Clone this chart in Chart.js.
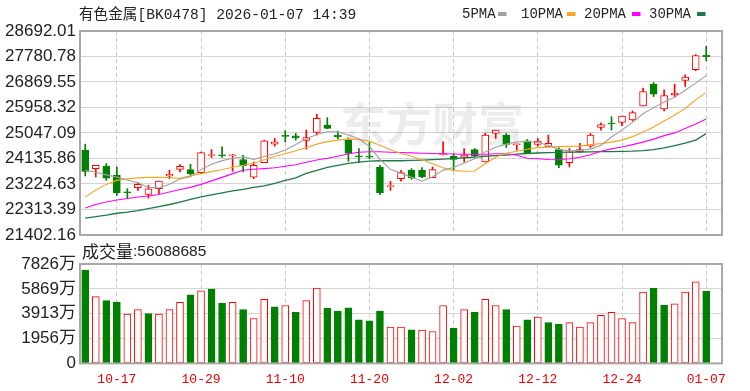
<!DOCTYPE html>
<html>
<head>
<meta charset="utf-8">
<script src="https://cdn.jsdelivr.net/npm/chart.js@4.4.1/dist/chart.umd.min.js"></script>
<style>
  html, body { margin: 0; padding: 0; background: #fff; }
  #wrap { position: relative; width: 750px; height: 391px; overflow: hidden; }
  #kline { position: absolute; left: 0; top: 0; }
  #vol { position: absolute; left: 0; top: 240px; }
</style>
</head>
<body>
<div id="wrap">
  <canvas id="kline" width="750" height="252"></canvas>
  <canvas id="vol" width="750" height="160"></canvas>
</div>
<script>
const title = "有色金属[BK0478] 2026-01-07 14:39";
const maNames = ["5PMA", "10PMA", "20PMA", "30PMA"];
const volTitle = "成交量";
const lastVolume = 56088685;

const dates = ["10-14","10-15","10-16","10-17","10-20","10-21","10-22","10-23","10-24","10-27",
  "10-28","10-29","10-30","10-31","11-03","11-04","11-05","11-06","11-07","11-10",
  "11-11","11-12","11-13","11-14","11-17","11-18","11-19","11-20","11-21","11-24",
  "11-25","11-26","11-27","11-28","12-01","12-02","12-03","12-04","12-05","12-08",
  "12-09","12-10","12-11","12-12","12-15","12-16","12-17","12-18","12-19","12-22",
  "12-23","12-24","12-25","12-26","12-29","12-30","12-31","01-05","01-06","01-07"];
const tickDates = ["10-17", "10-29", "11-10", "11-20", "12-02", "12-12", "12-24", "01-07"];

const open = [24433,23775,23868,23534,22923,23092,22851,23056,23509,23750,
  23739,23631,24242,24253,24235,24099,23473,23991,24649,24954,
  24947,24782,25069,25332,24972,24818,24210,24199,23822,23131,
  23415,23714,23714,23451,24264,24217,24192,24458,24012,25033,
  24972,24627,24767,24638,24551,24458,23991,24372,24577,25249,
  25386,25429,25511,26015,26795,25907,26410,26924,27309,27823];
const close = [23678,23894,23437,22905,22909,23211,23056,23329,23570,23858,
  23595,24350,24267,24228,24271,23868,23894,24767,24731,24929,
  24875,24886,25572,25213,24911,24314,24192,24181,22912,23149,
  23631,23451,23475,23739,24314,24099,24253,24228,24972,25152,
  24638,24649,24336,24756,24674,23894,24372,24458,24972,25350,
  25368,25655,25774,26529,26435,26385,26471,27046,27812,27776];
const high = [24649,23894,23955,23832,23056,23272,23175,23329,23714,23919,
  23930,24361,24458,24551,24278,24253,24012,24792,24853,25127,
  25033,25152,25716,25594,25116,24866,24494,24710,23894,23318,
  23714,23775,23811,23832,24731,24314,24494,24494,25033,25152,
  25033,24649,24818,24853,24972,24530,24494,24674,25033,25414,
  25630,25655,25835,26651,26852,26590,26795,27129,27848,28146];
const low = [23509,23473,23354,22815,22718,22995,22718,22876,23415,23653,
  23534,23631,24170,24170,23678,23653,23415,23991,24577,24731,
  24792,24469,24972,25195,24828,24037,23991,24134,22840,22995,
  23329,23390,23451,23451,24264,23714,24012,24192,24012,24853,
  24530,24433,24314,24577,24551,23811,23832,24372,24530,25152,
  25152,25306,25475,26015,26349,25835,26349,26708,27273,27632];

// volume in 万
const volume = [7340,5263,4939,4831,3886,4237,3913,3886,4237,4804,
  5398,5722,5857,4723,4804,4237,3536,5047,4453,4561,
  4021,4939,5938,4345,4129,4372,3428,3347,4129,2861,
  2861,2645,2618,2510,4561,2753,4237,4021,5047,4561,
  4237,2942,3428,3644,3212,3104,3212,2861,3212,3779,
  4021,3536,3212,5614,5938,4588,4696,5614,6424,5700];

const ma5 = [23714,23642,23552,23473,23365,23272,23103,23081,23214,23405,
  23480,23739,23930,24059,24142,24196,24106,24206,24307,24436,
  24638,24839,24997,25094,25091,24979,24839,24562,24102,23750,
  23613,23466,23322,23487,23721,23815,23976,24127,24372,24541,
  24649,24728,24749,24706,24609,24462,24408,24429,24472,24609,
  24904,25159,25425,25734,25954,26155,26320,26572,26831,27097];
const ma10 = [22754,23013,23211,23354,23408,23444,23462,23462,23455,23426,
  23516,23595,23667,23732,23822,23894,23965,24091,24217,24307,
  24415,24523,24649,24738,24792,24828,24818,24756,24613,24451,
  24311,24217,24091,23948,23804,23703,23678,23689,23948,24181,
  24325,24397,24469,24523,24541,24559,24569,24577,24631,24667,
  24720,24792,24918,25080,25260,25475,25691,25925,26230,26500];
const ma20 = [22366,22492,22581,22653,22707,22761,22797,22851,22941,23031,
  23103,23211,23336,23462,23595,23714,23750,23775,23804,23858,
  23912,24001,24081,24145,24217,24307,24361,24379,24379,24361,
  24350,24336,24325,24314,24307,24296,24289,24282,24289,24307,
  24307,24253,24145,24127,24099,24091,24127,24181,24271,24397,
  24480,24548,24631,24720,24828,24954,25051,25206,25368,25547];
const ma30 = [22006,22060,22114,22179,22222,22276,22348,22420,22492,22574,
  22671,22761,22833,22905,22977,23031,23103,23157,23246,23354,
  23444,23606,23714,23822,23894,23965,24009,24045,24055,24055,
  24055,24066,24081,24099,24116,24134,24163,24188,24217,24235,
  24260,24289,24314,24332,24343,24354,24361,24368,24375,24379,
  24383,24390,24397,24415,24451,24512,24595,24684,24792,25026];

const priceTicks = [21402.16, 22313.39, 23224.63, 24135.86, 25047.09, 25958.32, 26869.55, 27780.78, 28692.01];
const volTicks = [0, 1956, 3913, 5869, 7826];

const RED = "#ff0000";
const GREEN = "#008000";
const maColors = ["#a0a0a0", "#f5a623", "#ff00ff", "#1d7a46"];

// one empty slot after the last day, like the original
const labels = dates.concat([""]);
const isUp = (i) => close[i] >= open[i];
// volume colour follows close vs previous close
const volUp = (i) => close[i] >= (i > 0 ? close[i - 1] : open[i]);
const gridColor = (ctx) => tickDates.includes(labels[ctx.index]) ? "#c8c8c8" : "rgba(0,0,0,0)";

Chart.defaults.font.family = '"Liberation Sans", Arial, "Noto Sans CJK SC"';
Chart.defaults.animation = false;

const framePlugin = {
  id: "frame",
  afterDraw(chart) {
    const a = chart.chartArea;
    const c = chart.ctx;
    c.save();
    c.strokeStyle = "#a8a8a8";
    c.lineWidth = 2;
    c.strokeRect(a.left, a.top, a.right - a.left, a.bottom - a.top);
    c.restore();
  }
};

const headPlugin = {
  id: "head",
  beforeDatasetsDraw(chart) {
    const c = chart.ctx;
    c.save();
    c.fillStyle = "rgba(0,0,0,0.075)";
    c.font = 'bold 46px "Noto Sans CJK SC"';
    c.textBaseline = "middle";
    c.fillText("东方财富", 340, 124);
    c.restore();
  },
  afterDraw(chart) {
    const c = chart.ctx;
    c.save();
    c.textBaseline = "middle";
    c.fillStyle = "#222";
    c.font = '14.6px "Liberation Mono", "Noto Sans CJK SC"';
    c.fillText(title, 79, 15);
    const xs = [462, 521, 584, 649];
    const ms = [498, 567, 632, 697];
    c.font = '14px "Liberation Mono"';
    maNames.forEach((n, k) => {
      c.fillStyle = "#222";
      c.fillText(n, xs[k], 14.5);
      c.fillStyle = maColors[k];
      c.fillRect(ms[k], 12, 8.5, 4);
    });
    c.restore();
  }
};

const maSet = (data, k) => ({
  type: "line",
  data: data,
  borderColor: maColors[k],
  borderWidth: k === 3 ? 1.3 : 1.1,
  pointRadius: 0,
  tension: 0,
  order: 0
});

new Chart(document.getElementById("kline"), {
  type: "bar",
  data: {
    labels: labels,
    datasets: [
      maSet(ma5, 0), maSet(ma10, 1), maSet(ma20, 2), maSet(ma30, 3),
      {
        data: open.map((o, i) => [o, close[i]]),
        barThickness: 7,
        grouped: false,
        minBarLength: 1,
        borderWidth: 1,
        borderSkipped: false,
        backgroundColor: (ctx) => isUp(ctx.dataIndex) ? "#ffffff" : GREEN,
        borderColor: (ctx) => isUp(ctx.dataIndex) ? RED : GREEN,
        order: 1
      },
      {
        data: low.map((l, i) => [l, high[i]]),
        barThickness: 1,
        grouped: false,
        backgroundColor: (ctx) => isUp(ctx.dataIndex) ? RED : GREEN,
        order: 2
      }
    ]
  },
  options: {
    responsive: false,
    devicePixelRatio: 1,
    layout: { padding: { top: 31, right: 28, bottom: 17, left: 0 } },
    plugins: { legend: { display: false }, tooltip: { enabled: false } },
    scales: {
      x: {
        offset: true,
        grid: { offset: false, color: gridColor, drawTicks: false, lineWidth: 1 },
        border: { display: false, dash: [4, 3] },
        ticks: { display: false, autoSkip: false }
      },
      y: {
        min: priceTicks[0],
        max: priceTicks[priceTicks.length - 1],
        afterBuildTicks: (s) => { s.ticks = priceTicks.map((v) => ({ value: v })); },
        afterFit: (s) => { s.width = 80; },
        grid: { color: "#d4d4d4", drawTicks: false },
        border: { display: false },
        ticks: {
          autoSkip: false,
          padding: 4,
          color: "#222",
          font: { size: 17 },
          callback: (v) => Number(v).toFixed(2)
        }
      }
    }
  },
  plugins: [framePlugin, headPlugin]
});

const volHead = {
  id: "volHead",
  afterDraw(chart) {
    const c = chart.ctx;
    c.save();
    c.textBaseline = "middle";
    c.fillStyle = "#222";
    c.font = '17px "Noto Sans CJK SC"';
    c.fillText(volTitle, 82, 12);
    const w = c.measureText(volTitle).width;
    c.font = '15.5px "Liberation Sans"';
    c.fillText(":" + lastVolume, 82 + w, 12);
    c.restore();
  }
};

new Chart(document.getElementById("vol"), {
  type: "bar",
  data: {
    labels: labels,
    datasets: [{
      data: volume,
      barThickness: 7,
      borderWidth: 1,
      borderSkipped: false,
      backgroundColor: (ctx) => volUp(ctx.dataIndex) ? "#ffffff" : GREEN,
      borderColor: (ctx) => volUp(ctx.dataIndex) ? RED : GREEN
    }]
  },
  options: {
    responsive: false,
    devicePixelRatio: 1,
    layout: { padding: { top: 24, right: 28, bottom: 5, left: 0 } },
    plugins: { legend: { display: false }, tooltip: { enabled: false } },
    scales: {
      x: {
        offset: true,
        grid: { offset: false, color: gridColor, drawTicks: false },
        border: { display: false, dash: [4, 3] },
        ticks: {
          autoSkip: false,
          maxRotation: 0,
          padding: 8,
          color: "#ee0000",
          font: { size: 13, family: '"Liberation Mono"' },
          callback: (v, i) => tickDates.includes(labels[i]) ? labels[i] : ""
        }
      },
      y: {
        min: 0,
        max: volTicks[volTicks.length - 1],
        afterBuildTicks: (s) => { s.ticks = volTicks.map((v) => ({ value: v })); },
        afterFit: (s) => { s.width = 80; },
        grid: { color: "#d4d4d4", drawTicks: false },
        border: { display: false },
        ticks: {
          autoSkip: false,
          padding: 4,
          color: "#222",
          font: { size: 17 },
          callback: (v) => v === 0 ? "0" : v + "万"
        }
      }
    }
  },
  plugins: [framePlugin, volHead]
});
</script>
</body>
</html>
